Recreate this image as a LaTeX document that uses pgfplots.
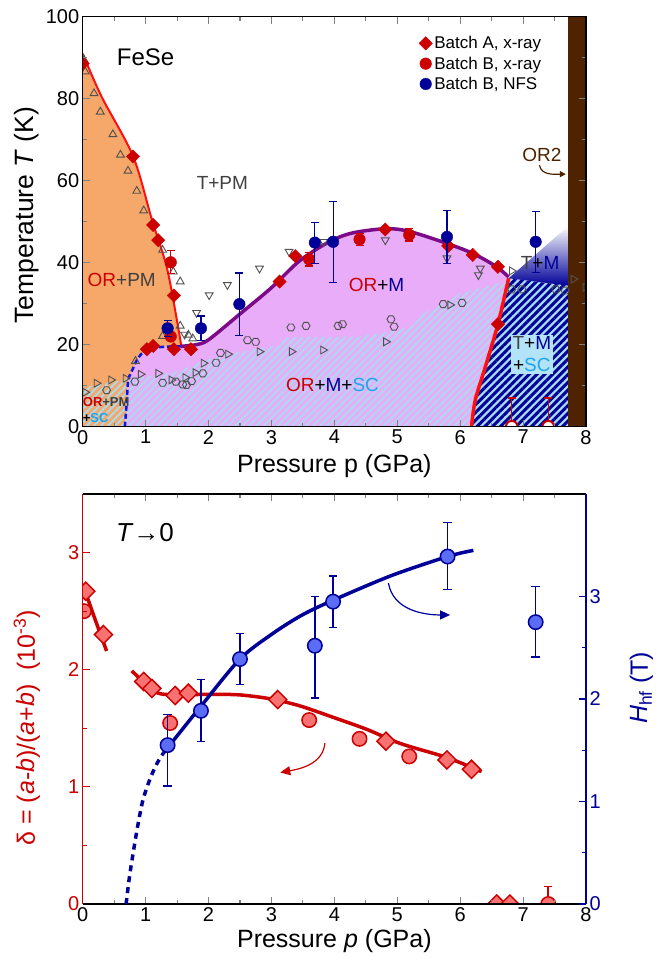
\documentclass[border=0pt]{standalone}
\usepackage{pgfplots}
\pgfplotsset{compat=1.18}
\usepackage{fontspec}
\setmainfont{Liberation Sans}
\usetikzlibrary{patterns,patterns.meta,arrows.meta}
\newcommand\fs[1]{\fontsize{#1bp}{1.15\dimexpr#1bp\relax}\selectfont}
\definecolor{dred}{HTML}{CC0000}
\definecolor{bred}{HTML}{FF1010}
\definecolor{navy}{HTML}{000099}
\definecolor{dblue}{HTML}{0A14E6}
\definecolor{purp}{HTML}{7D0A87}
\definecolor{orng}{HTML}{F5A86A}
\definecolor{pinkf}{HTML}{E9ACF8}
\definecolor{hblue}{HTML}{A8DCF0}
\definecolor{brwn}{HTML}{502300}
\definecolor{scblue}{HTML}{1EA5F0}
\definecolor{gmark}{HTML}{505050}
\definecolor{lred}{HTML}{F87272}
\definecolor{lblue}{HTML}{5B6CF5}
\definecolor{boxblue}{HTML}{B3E3F8}
\definecolor{tgray}{HTML}{404040}

\pgfdeclareplotmark{hexa}{%
  \pgfpathmoveto{\pgfpointpolar{0}{\pgfplotmarksize}}%
  \pgfpathlineto{\pgfpointpolar{60}{\pgfplotmarksize}}%
  \pgfpathlineto{\pgfpointpolar{120}{\pgfplotmarksize}}%
  \pgfpathlineto{\pgfpointpolar{180}{\pgfplotmarksize}}%
  \pgfpathlineto{\pgfpointpolar{240}{\pgfplotmarksize}}%
  \pgfpathlineto{\pgfpointpolar{300}{\pgfplotmarksize}}%
  \pgfpathclose
  \pgfusepathqstroke
}

\pgfplotsset{
  base/.style={
    scale only axis, width=503.3bp, height=410bp,
    xmin=0, xmax=8, xtick={0,1,...,8}, minor x tick num=1,
    tick align=inside, major tick length=7bp, minor tick length=4bp,
    tick style={line width=1.1bp},
    axis line style={line width=1.5bp},
    tick label style={font=\fs{20}},
    label style={font=\fs{25}},
    /pgf/number format/assume math mode=true,
    axis on top, clip marker paths=true,
  },
  gm/.style={only marks, draw=gmark, mark options={line width=0.9bp, fill=none, draw=gmark}, mark size=4.5bp, forget plot},
  hatchL/.style={draw=none, pattern={Lines[angle=45,distance=5bp,line width=1.8bp]}, pattern color=hblue, forget plot},
}

\begin{document}
\begin{tikzpicture}
\useasboundingbox (0bp,0bp) rectangle (662bp,-958bp);

%================ TOP PANEL ================
\begin{axis}[base, at={(82.7bp,-426.7bp)}, anchor=south west,
  ymin=0, ymax=100, ytick={0,20,...,100}, minor y tick num=1,
  xlabel={Pressure p (GPa)}, ylabel={Temperature \textit{T} (K)},
  xlabel style={at={(axis description cs:0.5,-0.096)}, anchor=center},
  ylabel style={at={(axis description cs:-0.111,0.516)}, anchor=center, font=\fs{26.5}},
  legend style={at={(axis description cs:0.662,0.962)}, anchor=north west, draw=none, fill=none, font=\fs{17}, row sep=2.5bp},
  legend cell align=left,
]
\addlegendimage{only marks, mark=square*, mark options={rotate=45, fill=dred, draw=dred}, mark size=4.7bp}
\addlegendentry{Batch A, x-ray}
\addlegendimage{only marks, mark=*, mark options={fill=dred, draw=dred}, mark size=5.8bp}
\addlegendentry{Batch B, x-ray}
\addlegendimage{only marks, mark=*, mark options={fill=navy, draw=navy}, mark size=5.8bp}
\addlegendentry{Batch B, NFS}

% regions
\addplot[fill=orng, draw=none, forget plot] coordinates {(0,0) (0,91) (0.3,80.5) (0.8,66) (1.1,50.5) (1.35,38) (1.57,19.5) (1.3,19.5) (1.02,18.9) (0.88,16.7) (0.80,14.2) (0.725,11.4) (0.67,0)};
\addplot[hatchL] coordinates {(0,0) (0,9.5) (0.3,10.5) (0.725,11.6) (0.67,0)};
\addplot[fill=pinkf, draw=none, forget plot] coordinates {(0.67,0) (0.725,11.4) (0.80,14.2) (0.88,16.7) (1.02,18.9) (1.3,19.5) (1.6,19.6) (1.8,20) (2.0,21.2) (2.5,27.5) (3.0,33.9) (3.45,40.5) (3.93,45.2) (4.3,47.3) (4.83,48.3) (5.2,47.6) (5.79,44.7) (6.21,42.2) (6.58,39.0) (6.77,36.5) (6.60,25) (6.40,14.6) (6.24,6.5) (6.18,0)};
\addplot[hatchL] coordinates {(0.67,0) (0.70,11.9) (1.0,12.2) (1.5,13.5) (2.1,17) (2.5,18.3) (3.14,19.9) (3.2,21.8) (4.4,22) (5.0,23.5) (5.26,24.8) (5.35,27) (6.0,32.5) (6.74,35.5) (6.60,25) (6.40,14.6) (6.24,6.5) (6.18,0)};
\addplot[fill=hblue, draw=none, forget plot] coordinates {(6.18,0) (6.24,6.5) (6.40,14.6) (6.60,25) (6.77,36.2) (7.72,34.4) (7.72,0)};
\addplot[draw=none, pattern={Lines[angle=45,distance=5.5bp,line width=3bp]}, pattern color=navy, forget plot] coordinates {(6.18,0) (6.24,6.5) (6.40,14.6) (6.60,25) (6.77,36.2) (7.72,34.4) (7.72,0)};
\addplot[draw=none, top color=white, bottom color=navy, forget plot] coordinates {(6.77,36.2) (7.72,49) (7.72,34.4)};
\addplot[fill=brwn, draw=none, forget plot] coordinates {(7.72,0) (7.72,100) (8,100) (8,0)};

% boundary lines
\addplot[bred, line width=2bp, smooth, forget plot] coordinates {(0,91) (0.3,80.5) (0.8,66) (1.1,50.5) (1.35,38) (1.57,19.5)};
\addplot[dblue, line width=2.5bp, dash pattern=on 5bp off 3bp, smooth, tension=0.5, forget plot] coordinates {(0.67,0) (0.70,6) (0.725,11.4) (0.80,14.2) (0.88,16.7) (1.02,18.9) (1.3,19.5) (1.55,19.6)};
\addplot[purp, line width=3.5bp, smooth, forget plot] coordinates {(1.55,19.6) (1.8,20) (2.0,21.2) (2.5,27.5) (3.0,33.9) (3.45,40.5) (3.93,45.2) (4.3,47.3) (4.83,48.3) (5.2,47.6) (5.79,44.7) (6.21,42.2) (6.58,39.0) (6.77,36.5)};
\addplot[bred, line width=3.5bp, smooth, forget plot] coordinates {(6.18,0) (6.24,6.5) (6.40,14.6) (6.60,25) (6.77,36.2)};

% open literature markers
\addplot[gm, mark=triangle] coordinates {(0.02,89.5) (0.04,86.6) (0.18,81.3) (0.28,76.8) (0.48,71.3) (0.60,66.3) (0.72,62.4) (0.86,57.5) (0.97,52.7) (1.27,43.1) (1.44,37.8) (1.55,35.4) (1.27,22.1) (1.55,24.6) (1.68,22.4) (1.75,21.5) (0.84,16.0)};
\addplot[gm, mark=triangle, mark options={rotate=180, line width=0.9bp, draw=gmark, fill=none}] coordinates {(1.62,22.5) (1.81,27.8) (2.01,32.1) (2.30,34.6) (2.81,38.6) (3.28,42.7) (3.83,45.1) (4.81,45.5) (5.79,41.1) (6.29,37.0) (6.32,38.6)};
\addplot[gm, mark=triangle, mark options={rotate=-90, line width=0.9bp, draw=gmark, fill=none}] coordinates {(0.04,8.4) (0.22,10.6) (0.45,11.4) (0.68,11.8) (0.92,12.8) (1.20,13.0) (1.41,11.4) (1.63,12.0) (1.79,13.2) (1.92,15.5) (2.31,17.7) (2.81,18.3) (3.32,18.3) (3.82,18.7) (4.82,20.7) (5.84,29.7) (6.82,38.0) (7.8,36.0) (7.99,34)};
\addplot[gm, mark=hexa, mark size=4bp] coordinates {(0.38,8.9) (0.83,11.0) (1.27,10.7) (1.48,11.0) (1.59,10.3) (1.65,10.2) (1.73,11.1) (1.91,13.0) (2.12,15.6) (2.19,18.0) (2.62,21.1) (2.75,20.7) (3.31,24.2) (3.55,24.6) (4.06,24.6) (4.13,25.0) (4.90,26.2) (4.95,24.4) (5.73,29.9) (6.03,30.2) (6.82,33.5) (6.98,33.5) (7.52,33.5) (7.67,33.2)};

% this work
\addplot[only marks, mark=*, mark size=5.8bp, mark options={fill=dred, draw=dred}, dred, forget plot,
  error bars/.cd, y dir=both, y explicit, error bar style={line width=1.1bp, dred}, error mark options={rotate=90, line width=1.1bp, mark size=4bp, dred}]
  coordinates {(1.40,40.1) +- (0,2.8) (1.40,22.0) +- (0,0) (3.60,40.8) +- (0,1.6) (4.40,45.7) +- (0,1.5) (5.19,46.8) +- (0,1.5)};
\addplot[only marks, mark=*, mark size=5.8bp, mark options={fill=white, draw=dred, line width=2bp}, dred, forget plot,
  error bars/.cd, y dir=plus, y explicit, error bar style={line width=1.1bp, dred}, error mark options={rotate=90, line width=1.1bp, mark size=4bp, dred}]
  coordinates {(6.82,0) +- (0,7) (7.40,0) +- (0,7)};
\addplot[only marks, mark=square*, mark size=4.7bp, mark options={rotate=45, fill=dred, draw=dred}, forget plot]
  coordinates {(0,88.6) (0.80,65.9) (1.12,49.2) (1.20,45.5) (1.45,32) (1.02,18.9) (1.12,19.7) (1.45,18.9) (1.72,18.9) (3.13,35.4) (3.38,41.6) (4.81,48.1) (5.81,44.1) (6.2,41.9) (6.6,39.0) (6.6,25.0)};
\addplot[only marks, mark=*, mark size=5.8bp, mark options={fill=navy, draw=navy}, navy, forget plot,
  error bars/.cd, y dir=both, y explicit, error bar style={line width=1.1bp, navy}, error mark options={rotate=90, line width=1.1bp, mark size=4bp, navy}]
  coordinates {(1.35,24.0) +- (0,2) (1.88,24.0) +- (0,3) (2.49,29.9) +- (0,7.6) (3.69,44.9) +- (0,5) (3.98,45.1) +- (0,9.9) (5.79,46.3) +- (0,6.4) (7.2,45.1) +- (0,7.4)};

% labels
\node[font=\fs{24}] at (axis cs:1.0,90.1) {FeSe};
\node[font=\fs{19}, text=tgray] at (axis cs:2.22,59.5) {T+PM};
\node[font=\fs{19}] at (axis cs:0.62,35.8) {\textcolor{dred}{OR}\textcolor{tgray}{+PM}};
\node[font=\fs{19}] at (axis cs:4.67,34.6) {\textcolor{dred}{OR}+\textcolor{navy}{M}};
\node[font=\fs{19}] at (axis cs:3.97,10.2) {\textcolor{dred}{OR}+\textcolor{navy}{M}+\textcolor{scblue}{SC}};
\node[font=\fs{19}] at (axis cs:7.27,40.0) {\textcolor{tgray}{T}+\textcolor{navy}{M}};
\node[font=\fontsize{19bp}{22bp}\selectfont, fill=boxblue, inner sep=2bp, align=center] at (axis cs:7.14,17.6) {\textcolor{tgray}{T}+\textcolor{navy}{M}\\+\textcolor{scblue}{SC}};
\node[font=\bfseries\fontsize{13bp}{16bp}\selectfont, anchor=west, align=left, inner sep=0pt] at (axis cs:0,4) {\textcolor{dred}{OR}\textcolor{tgray}{+PM}\\+\textcolor{scblue}{SC}};
\node[font=\fs{19}, text=brwn] at (axis cs:7.3,66.4) {OR2};
\draw[brwn, line width=1.2bp, -{Triangle[length=6bp,width=6bp]}] (axis cs:7.26,63.8) to[out=-80,in=180] (axis cs:7.68,61.6);
\end{axis}

%================ BOTTOM PANEL (left axis) ================
\begin{axis}[base, at={(82.7bp,-904bp)}, anchor=south west,
  ymin=0, ymax=3.5, ytick={0,1,2,3}, minor y tick num=1,
  axis y line*=left,
  y axis line style={draw=dred},
  ytick style={draw=dred},
  yticklabel style={text=dred},
  xlabel={Pressure \textit{p} (GPa)},
  xlabel style={at={(axis description cs:0.5,-0.090)}, anchor=center},
  ylabel={δ = (\textit{a}-\textit{b})/(\textit{a}+\textit{b})\ \ (10\textsuperscript{-3})},
  ylabel style={at={(axis description cs:-0.111,0.43)}, anchor=center, text=dred},
]
\addplot[dred, line width=3.5bp, smooth] coordinates {(0,2.73) (0.19,2.44) (0.38,2.16)};
\addplot[dred, line width=3.5bp, smooth] coordinates {(0.78,1.99) (1.0,1.88) (1.2,1.80) (1.5,1.785) (2.0,1.79) (2.5,1.785) (3.0,1.75) (3.46,1.69) (4.0,1.59) (4.52,1.49) (5.05,1.37) (5.79,1.25) (6.34,1.13)};
\addplot[only marks, mark=*, mark size=7.2bp, mark options={fill=lred, draw=dred, line width=1.5bp}, dred,
  error bars/.cd, y dir=plus, y explicit, error bar style={line width=1.5bp, dred}, error mark options={rotate=90, line width=1.5bp, mark size=4.2bp, dred}]
  coordinates {(0.02,2.50) +- (0,0) (1.39,1.545) +- (0,0) (3.60,1.57) +- (0,0) (4.40,1.41) +- (0,0) (5.19,1.26) +- (0,0) (7.40,0) +- (0,0.15)};
\addplot[only marks, mark=square*, mark size=6.4bp, mark options={rotate=45, fill=lred, draw=dred, line width=1.5bp}]
  coordinates {(0.05,2.67) (0.33,2.30) (0.97,1.90) (1.10,1.84) (1.47,1.78) (1.68,1.80) (3.10,1.745) (4.82,1.39) (5.79,1.23) (6.18,1.15) (6.58,0) (6.79,0)};
\draw[dred, line width=1.2bp, -{Triangle[length=10bp,width=9bp]}] (axis cs:3.85,1.375) to[out=-95,in=10] (axis cs:3.14,1.123);
\node[font=\fs{26}] at (axis cs:0.99,3.17) {\textit{T}→0};
\end{axis}

%================ BOTTOM PANEL (right axis) ================
\begin{axis}[base, at={(82.7bp,-904bp)}, anchor=south west,
  axis x line=none, axis y line*=right,
  ymin=0, ymax=4, ytick={0,1,2,3}, minor y tick num=1,
  y axis line style={draw=navy},
  ytick style={draw=navy},
  yticklabel style={text=navy},
  ylabel={\textit{H}\textsubscript{hf} (T)},
  ylabel style={at={(axis description cs:1.11,0.527)}, anchor=center, text=navy},
]
\addplot[navy, line width=3.5bp, dash pattern=on 6bp off 5bp, smooth] coordinates {(0.69,0) (0.74,0.25) (0.80,0.49) (0.88,0.78) (0.96,1.02) (1.07,1.22) (1.18,1.37) (1.28,1.47)};
\addplot[navy, line width=3.5bp, smooth] coordinates {(1.28,1.47) (1.88,1.93) (2.5,2.39) (3.0,2.63) (3.46,2.81) (3.93,2.95) (4.89,3.20) (5.80,3.39) (6.21,3.45)};
\addplot[only marks, mark=*, mark size=7.2bp, mark options={fill=lblue, draw=navy, line width=1.5bp}, navy,
  error bars/.cd, y dir=both, y explicit, error bar style={line width=1.5bp, navy}, error mark options={rotate=90, line width=1.5bp, mark size=4.2bp, navy}]
  coordinates {(1.35,1.55) += (0,0.30) -= (0,0.40) (1.88,1.885) += (0,0.305) -= (0,0.30) (2.50,2.39) +- (0,0.25) (3.69,2.52) += (0,0.48) -= (0,0.51) (3.98,2.95) +- (0,0.25) (5.80,3.39) += (0,0.33) -= (0,0.32) (7.20,2.75) += (0,0.35) -= (0,0.34)};
\draw[navy, line width=1.2bp, -{Triangle[length=10bp,width=9bp]}] (axis cs:4.86,3.13) to[out=-80,in=180] (axis cs:5.84,2.82);
\end{axis}
\end{tikzpicture}
\end{document}
